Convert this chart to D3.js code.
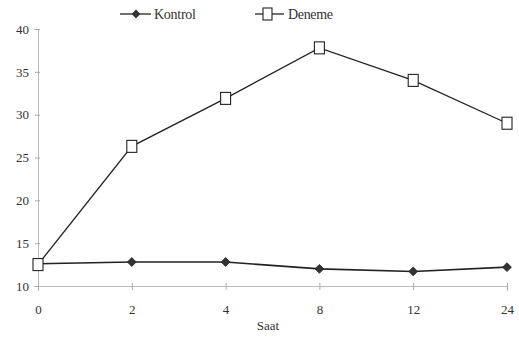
<!DOCTYPE html>
<html>
<head>
<meta charset="utf-8">
<script src="https://cdnjs.cloudflare.com/ajax/libs/d3/7.8.5/d3.min.js"></script>
<style>
	body{ margin:0; background:#fff; }
	svg text{ font-family:"Liberation Serif", "DejaVu Serif", serif; fill:#333; }
</style>
</head>
<body>
<svg id="chart" width="519" height="340"></svg>
<script>
var hours = ["0", "2", "4", "8", "12", "24"];
var kontrol = [12.6, 12.8, 12.8, 12.0, 11.7, 12.2];
var deneme = [12.5, 26.3, 31.9, 37.8, 34.0, 29.0];
var yTicks = [10, 15, 20, 25, 30, 35, 40];

var svg = d3.select("#chart");

var x = d3.scalePoint()
	.domain(hours)
	.range([38, 507]);

var y = d3.scaleLinear()
	.domain([10, 40])
	.range([286, 29]);

// y axis
var yAxis = svg.append("g")
	.attr("transform", "translate(38,0)")
	.call(d3.axisLeft(y).tickValues(yTicks).tickSize(4).tickPadding(5));
yAxis.select(".domain").attr("stroke", "#bbb");
yAxis.selectAll(".tick line").attr("stroke", "#aaa").attr("x2", 2).attr("x1", -3);
yAxis.selectAll(".tick text")
	.style("font-size", "13px")
	.style("font-family", "Liberation Serif")
	.attr("fill", "#444");

// x axis
var xAxis = svg.append("g")
	.attr("transform", "translate(0," + y(10) + ")")
	.call(d3.axisBottom(x).tickSize(5).tickPadding(14));
xAxis.select(".domain").attr("stroke", "#bbb");
xAxis.selectAll(".tick line").attr("stroke", "#aaa").attr("y1", -3).attr("y2", 4);
xAxis.selectAll(".tick text")
	.style("font-size", "13px")
	.style("font-family", "Liberation Serif")
	.attr("fill", "#444");

svg.append("text")
	.attr("x", 268)
	.attr("y", 330)
	.attr("text-anchor", "middle")
	.style("font-size", "13px")
	.text("Saat");

var line = d3.line()
	.x(function(d, i){ return x(hours[i]); })
	.y(function(d){ return y(d); });

svg.append("path")
	.datum(deneme)
	.attr("fill", "none")
	.attr("stroke", "#222")
	.attr("stroke-width", 1.3)
	.attr("d", line);

svg.append("path")
	.datum(kontrol)
	.attr("fill", "none")
	.attr("stroke", "#222")
	.attr("stroke-width", 1.6)
	.attr("d", line);

var diamond = d3.symbol().type(d3.symbolDiamond2).size(50);

svg.selectAll("path.kontrol")
	.data(kontrol)
	.enter()
	.append("path")
	.classed("kontrol", true)
	.attr("transform", function(d, i){
		return "translate(" + x(hours[i]) + "," + y(d) + ")";
	})
	.attr("d", diamond)
	.attr("fill", "#333")
	.attr("stroke", "#222")
	.attr("stroke-width", 0.8);

svg.selectAll("rect.deneme")
	.data(deneme)
	.enter()
	.append("rect")
	.classed("deneme", true)
	.attr("x", function(d, i){ return x(hours[i]) - 5; })
	.attr("y", function(d){ return y(d) - 6; })
	.attr("width", 10)
	.attr("height", 12)
	.attr("fill", "#fff")
	.attr("stroke", "#222")
	.attr("stroke-width", 1.1);

// legend
var legend = svg.append("g");
legend.append("line")
	.attr("x1", 120).attr("x2", 151).attr("y1", 14).attr("y2", 14)
	.attr("stroke", "#222").attr("stroke-width", 1.3);
legend.append("path")
	.attr("transform", "translate(136,14)")
	.attr("d", diamond)
	.attr("fill", "#333");
legend.append("text")
	.attr("x", 154).attr("y", 19)
	.style("font-size", "14px")
	.attr("textLength", 42)
	.text("Kontrol");

legend.append("line")
	.attr("x1", 255).attr("x2", 284).attr("y1", 14).attr("y2", 14)
	.attr("stroke", "#222").attr("stroke-width", 1.3);
legend.append("rect")
	.attr("x", 263).attr("y", 8).attr("width", 9).attr("height", 12)
	.attr("fill", "#fff").attr("stroke", "#222").attr("stroke-width", 1.1);
legend.append("text")
	.attr("x", 288).attr("y", 19)
	.style("font-size", "14px")
	.attr("textLength", 45)
	.text("Deneme");
</script>
</body>
</html>
